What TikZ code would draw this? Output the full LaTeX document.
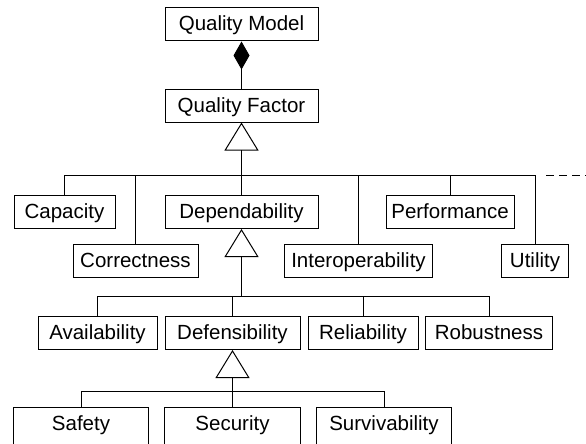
\documentclass[tikz,border=0pt]{standalone}
\usepackage{fontspec}
\setmainfont{Liberation Sans}
\usetikzlibrary{arrows.meta}
\begin{document}
\begin{tikzpicture}[x=1pt,y=-1pt,
  box/.style={draw,line width=1pt,minimum height=33pt,inner sep=0pt,
    text height=16pt,text depth=3pt,
    font=\fontsize{20.5}{24}\selectfont,anchor=center},
  openbox/.style={box,draw=none},
  conn/.style={line width=1pt},
  gen/.style={conn,-{Triangle[open,length=28pt,width=34pt,line width=1pt]}},
  comp/.style={conn,{Diamond[length=28pt,width=16pt]}-}]
\useasboundingbox (0,0) rectangle (586,444);
\fill[white] (0,0) rectangle (586,444);
% boxes
\node[box,minimum width=153pt] (qm) at (241.5,24.5) {Quality Model};
\node[box,minimum width=153pt] (qf) at (241.5,105.5) {Quality Factor};
\node[box,minimum width=101pt] (cap) at (64.5,212) {Capacity};
\node[box,minimum width=153pt] (dep) at (241.5,212) {Dependability};
\node[box,minimum width=128pt] (perf) at (450,212) {Performance};
\node[box,minimum width=125pt] (cor) at (135.5,261) {Correctness};
\node[box,minimum width=148pt] (int) at (358.5,261) {Interoperability};
\node[box,minimum width=67pt] (uti) at (535,261) {Utility};
\node[box,minimum width=119pt] (ava) at (97.5,333) {Availability};
\node[box,minimum width=135pt] (def) at (232.5,333) {Defensibility};
\node[box,minimum width=110pt] (rel) at (363,333) {Reliability};
\node[box,minimum width=127pt] (rob) at (489,333) {Robustness};
\node[openbox,minimum width=134pt] (saf) at (81,424) {Safety};
\node[openbox,minimum width=135pt] (sec) at (232.5,424) {Security};
\node[openbox,minimum width=134pt] (sur) at (384,424) {Survivability};
\foreach \n in {saf,sec,sur}
  \draw[conn] ([yshift=-12pt]\n.south west) -- (\n.north west) -- (\n.north east) -- ([yshift=-12pt]\n.south east);
% bus coordinates
\coordinate (b1) at (241.5,175);
\coordinate (b2c) at (241.5,296);
\coordinate (b3) at (232.5,391);
\coordinate (d1) at (546,175);
\coordinate (d2) at (586,175);
% composition
\draw[comp] (qm.south) -- (qf.north);
% generalization 1
\draw[gen] (b1) -- (qf.south);
\draw[conn] (cap.north) |- (b1);
\draw[conn] (cor.north) |- (b1);
\draw[conn] (dep.north) -- (b1);
\draw[conn] (int.north) |- (b1);
\draw[conn] (perf.north) |- (b1);
\draw[conn] (uti.north) |- (b1);
\draw[conn,dash pattern=on 8pt off 5pt] (d1) -- (d2);
% generalization 2
\draw[gen] (b2c) -- (dep.south);
\draw[conn] (ava.north) |- (b2c);
\draw[conn] (rob.north) |- (b2c);
\draw[conn] (def.north) |- (b2c);
\draw[conn] (rel.north) |- (b2c);
% generalization 3
\draw[gen] (b3) -- (def.south);
\draw[conn] (saf.north) |- (b3);
\draw[conn] (sec.north) -- (b3);
\draw[conn] (sur.north) |- (b3);
\end{tikzpicture}
\end{document}
